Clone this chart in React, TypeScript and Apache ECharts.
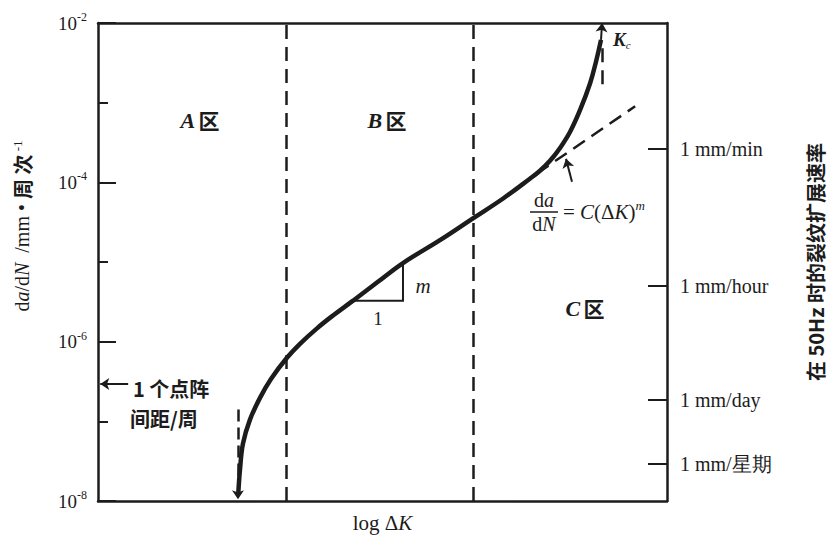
import { useEffect, useRef } from "react";
import * as echarts from "echarts";

// Crack growth curve: position along log ΔK (arbitrary units 0..100) and da/dN (mm/cycle)
const logDeltaK = [
  24.66, 24.96, 25.48, 26.71, 28.47, 30.4, 33.13, 35.5, 38.49, 41.3, 44.82,
  49.2, 53.6, 60.1, 65.9, 71.2, 75.9, 77.68, 79.44, 81.2, 82.95, 84.71, 86.47,
  87.52, 88.4,
];
const growthRate = [
  1.26e-8, 2.5e-8, 5.27e-8, 1.05e-7, 1.97e-7, 3.4e-7, 6.19e-7, 9.4e-7,
  1.47e-6, 2.13e-6, 3.27e-6, 5.64e-6, 9.71e-6, 1.88e-5, 3.53e-5, 6.27e-5,
  1.11e-4, 1.4e-4, 1.86e-4, 2.7e-4, 4.28e-4, 8.04e-4, 1.74e-3, 3.27e-3,
  6.14e-3,
];
// Zone boundaries (A|B, B|C), threshold and critical ΔK positions
const zoneBounds = [33.0, 65.9];
const thresholdK = 24.6;
const criticalK = 88.6;
// Paris-law extrapolation endpoints
const parisX = [77.15, 94.4];
const parisY = [1.29e-4, 9.0e-4];
// Slope triangle
const triX = [44.82, 53.6];
const triY = [3.27e-6, 9.71e-6];
// Right axis: crack growth rate at 50 Hz (log10 of mm/cycle)
const rateTickLog = [-3.58, -5.3, -6.73, -7.53];
const rateTickLabels = ["1 mm/min", "1 mm/hour", "1 mm/day", "1 mm/星期"];

const INK = "#1c1c1c";
const SERIF = "'Liberation Serif', 'DejaVu Serif', serif";
const CJK = "'Noto Sans CJK SC', 'Noto Sans', sans-serif";

export default function App() {
  const ref = useRef<HTMLDivElement>(null);
  useEffect(() => {
    if (!ref.current) return;
    const chart = echarts.init(ref.current, undefined, { renderer: "svg" });
    const curve = logDeltaK.map((x, i) => [x, growthRate[i]]);
    const dashed = { color: INK, width: 2.5, opacity: 1, type: [14, 8] as any };
    const option: any = {
      animation: false,
      backgroundColor: "#ffffff",
      grid: { left: 90, right: 162, top: 15, bottom: 33, containLabel: false },
      xAxis: [
        {
          type: "value",
          min: 0,
          max: 100,
          position: "bottom",
          axisLine: { show: true, lineStyle: { color: INK, width: 2.5 } },
          axisTick: { show: false },
          axisLabel: { show: false },
          splitLine: { show: false },
          name: "log Δ{i|K}",
          nameLocation: "middle",
          nameGap: 11,
          nameTextStyle: {
            color: INK,
            fontFamily: SERIF,
            fontSize: 21,
            verticalAlign: "top",
            rich: {
              i: { fontFamily: SERIF, fontStyle: "italic", fontSize: 21, color: INK },
            },
          },
        },
        {
          type: "value",
          min: 0,
          max: 100,
          position: "top",
          axisLine: { show: true, lineStyle: { color: INK, width: 2.5 } },
          axisTick: { show: false },
          axisLabel: { show: false },
          splitLine: { show: false },
        },
      ],
      yAxis: [
        {
          type: "log",
          logBase: 10,
          min: 1e-8,
          max: 1e-2,
          interval: 1,
          position: "left",
          axisLine: { show: true, lineStyle: { color: INK, width: 2.5 } },
          axisTick: { show: true, inside: true, length: 10, lineStyle: { color: INK, width: 2 } },
          splitLine: { show: false },
          axisLabel: {
            margin: 11,
            color: INK,
            formatter: (v: number) => {
              const e = Math.round(Math.log10(v));
              if (e % 2 !== 0) return "";
              return "{b|10}{s|-" + -e + "}";
            },
            rich: {
              b: { fontFamily: SERIF, fontSize: 19, lineHeight: 24, color: INK, verticalAlign: "middle" },
              s: { fontFamily: SERIF, fontSize: 12, lineHeight: 13, color: INK, verticalAlign: "top" },
            },
          },
        },
        {
          type: "value",
          min: -8,
          max: -2,
          interval: 2,
          position: "left",
          axisLine: { show: false },
          axisTick: { show: true, inside: true, length: 18, lineStyle: { color: INK, width: 2 } },
          axisLabel: { show: false },
          splitLine: { show: false },
        },
        {
          type: "value",
          min: -8,
          max: -2,
          position: "right",
          axisLine: { show: true, lineStyle: { color: INK, width: 2.5 } },
          axisTick: {
            show: true,
            inside: true,
            length: 19,
            customValues: rateTickLog,
            lineStyle: { color: INK, width: 2 },
          },
          axisLabel: {
            show: true,
            margin: 13,
            customValues: rateTickLog,
            color: INK,
            fontFamily: SERIF,
            fontSize: 20,
            formatter: (v: number) => {
              const i = rateTickLog.findIndex((t) => Math.abs(t - v) < 1e-6);
              return i >= 0 ? rateTickLabels[i] : "";
            },
          },
          splitLine: { show: false },
        },
      ],
      series: [
        {
          type: "line",
          data: curve,
          xAxisIndex: 0,
          yAxisIndex: 0,
          showSymbol: false,
          smooth: 0.4,
          lineStyle: { color: INK, width: 4.5 },
          silent: true,
          z: 5,
        },
        {
          type: "lines",
          coordinateSystem: "cartesian2d",
          xAxisIndex: 0,
          yAxisIndex: 0,
          silent: true,
          symbol: "none",
          lineStyle: dashed,
          data: zoneBounds.map((x) => ({ coords: [[x, 1e-8], [x, 1e-2]] })),
        },
        {
          type: "lines",
          coordinateSystem: "cartesian2d",
          xAxisIndex: 0,
          yAxisIndex: 0,
          silent: true,
          symbol: "none",
          lineStyle: dashed,
          data: [
            { coords: [[parisX[0], parisY[0]], [parisX[1], parisY[1]]] },
            { coords: [[criticalK, 1.7e-3], [criticalK, 5.5e-3]] },
          ],
        },
        {
          type: "lines",
          coordinateSystem: "cartesian2d",
          xAxisIndex: 0,
          yAxisIndex: 0,
          silent: true,
          symbol: ["none", "arrow"],
          symbolSize: 9,
          lineStyle: { color: INK, width: 2.5, opacity: 1, type: [12, 6] as any },
          data: [{ coords: [[thresholdK, 1.41e-7], [thresholdK, 1.05e-8]] }],
        },
        {
          type: "lines",
          coordinateSystem: "cartesian2d",
          xAxisIndex: 0,
          yAxisIndex: 0,
          silent: true,
          symbol: ["none", "arrow"],
          symbolSize: 9,
          lineStyle: { color: INK, width: 2, opacity: 1 },
          data: [
            { coords: [[88.4, 6.14e-3], [criticalK, 1e-2]] },
            { coords: [[83.3, 1.02e-4], [82.25, 1.97e-4]] },
            { coords: [[5.3, 2.94e-7], [0.4, 2.94e-7]] },
          ],
        },
        {
          type: "lines",
          coordinateSystem: "cartesian2d",
          xAxisIndex: 0,
          yAxisIndex: 0,
          silent: true,
          polyline: true,
          symbol: "none",
          lineStyle: { color: INK, width: 2, opacity: 1 },
          data: [
            {
              coords: [
                [triX[0], triY[0]],
                [triX[1], triY[0]],
                [triX[1], triY[1]],
              ],
            },
          ],
        },
      ],
      graphic: [
        // Left axis title
        {
          type: "text",
          x: 14,
          y: 218,
          rotation: Math.PI / 2,
          silent: true,
          style: {
            text: "{r|d}{i|a}{r|/d}{i|N}{r|  /mm • }{c|周 次}{s| -1}",
            align: "center",
            verticalAlign: "middle",
            fill: INK,
            rich: {
              r: { fontFamily: SERIF, fontSize: 20, fill: INK, lineHeight: 22, verticalAlign: "middle" },
              i: { fontFamily: SERIF, fontStyle: "italic", fontSize: 20, fill: INK, lineHeight: 22, verticalAlign: "middle" },
              c: { fontFamily: CJK, fontWeight: "bold", fontSize: 20, fill: INK, lineHeight: 22, verticalAlign: "middle" },
              s: { fontFamily: SERIF, fontSize: 13, fill: INK, lineHeight: 13, verticalAlign: "top" },
            },
          },
        },
        // Right axis title
        {
          type: "text",
          x: 807,
          y: 254,
          rotation: Math.PI / 2,
          silent: true,
          style: {
            text: "在 50Hz 时的裂纹扩展速率",
            align: "center",
            verticalAlign: "middle",
            fill: INK,
            font: "bold 20px 'Noto Sans CJK SC', sans-serif",
          },
        },
        // Zone labels
        ...[
          { t: "A", x: 192, y: 112 },
          { t: "B", x: 379, y: 112 },
          { t: "C", x: 577, y: 300 },
        ].map((z) => ({
          type: "text",
          x: z.x,
          y: z.y,
          silent: true,
          style: {
            text: "{l|" + z.t + "} {c|区}",
            align: "center",
            verticalAlign: "middle",
            rich: {
              l: { fontFamily: SERIF, fontStyle: "italic", fontWeight: "bold", fontSize: 22, fill: INK },
              c: { fontFamily: CJK, fontWeight: "bold", fontSize: 21, fill: INK },
            },
          },
        })),
        // 1 个点阵 间距/周
        {
          type: "text",
          x: 125,
          y: 380,
          silent: true,
          style: {
            text: "1 个点阵",
            align: "left",
            verticalAlign: "middle",
            fill: INK,
            font: "bold 20px 'Noto Sans CJK SC', sans-serif",
          },
        },
        {
          type: "text",
          x: 122,
          y: 410,
          silent: true,
          style: {
            text: "间距/周",
            align: "left",
            verticalAlign: "middle",
            fill: INK,
            font: "bold 20px 'Noto Sans CJK SC', sans-serif",
          },
        },
        // slope triangle labels
        {
          type: "text",
          x: 415,
          y: 278,
          silent: true,
          style: {
            text: "m",
            align: "center",
            verticalAlign: "middle",
            fill: INK,
            font: "italic 21px 'Liberation Serif', serif",
          },
        },
        {
          type: "text",
          x: 370,
          y: 310,
          silent: true,
          style: {
            text: "1",
            align: "center",
            verticalAlign: "middle",
            fill: INK,
            font: "19px 'Liberation Serif', serif",
          },
        },
        // K_c
        {
          type: "text",
          x: 605,
          y: 31,
          silent: true,
          style: {
            text: "{k|K}{c|c}",
            align: "left",
            verticalAlign: "middle",
            rich: {
              k: { fontFamily: SERIF, fontStyle: "italic", fontWeight: "bold", fontSize: 19, fill: INK, lineHeight: 22, verticalAlign: "middle" },
              c: { fontFamily: SERIF, fontStyle: "italic", fontSize: 11, fill: INK, lineHeight: 11, verticalAlign: "bottom" },
            },
          },
        },
        // Paris law formula
        {
          type: "text",
          x: 536,
          y: 192,
          silent: true,
          style: {
            text: "{r|d}{i|a}",
            align: "center",
            verticalAlign: "middle",
            rich: {
              r: { fontFamily: SERIF, fontSize: 20, fill: INK },
              i: { fontFamily: SERIF, fontStyle: "italic", fontSize: 20, fill: INK },
            },
          },
        },
        {
          type: "line",
          silent: true,
          shape: { x1: 522, y1: 204, x2: 550, y2: 204 },
          style: { stroke: INK, lineWidth: 1.5 },
        },
        {
          type: "text",
          x: 536,
          y: 216,
          silent: true,
          style: {
            text: "{r|d}{i|N}",
            align: "center",
            verticalAlign: "middle",
            rich: {
              r: { fontFamily: SERIF, fontSize: 20, fill: INK },
              i: { fontFamily: SERIF, fontStyle: "italic", fontSize: 20, fill: INK },
            },
          },
        },
        {
          type: "text",
          x: 555,
          y: 204,
          silent: true,
          style: {
            text: "{r|= }{i|C}{r|(Δ}{i|K}{r|)}{s|m}",
            align: "left",
            verticalAlign: "middle",
            rich: {
              r: { fontFamily: SERIF, fontSize: 21, fill: INK, lineHeight: 26, verticalAlign: "middle" },
              i: { fontFamily: SERIF, fontStyle: "italic", fontSize: 21, fill: INK, lineHeight: 26, verticalAlign: "middle" },
              s: { fontFamily: SERIF, fontStyle: "italic", fontSize: 13, fill: INK, lineHeight: 13, verticalAlign: "top" },
            },
          },
        },
      ],
    };
    chart.setOption(option);
    return () => chart.dispose();
  }, []);
  return <div ref={ref} style={{ width: 821, height: 530 }} />;
}
